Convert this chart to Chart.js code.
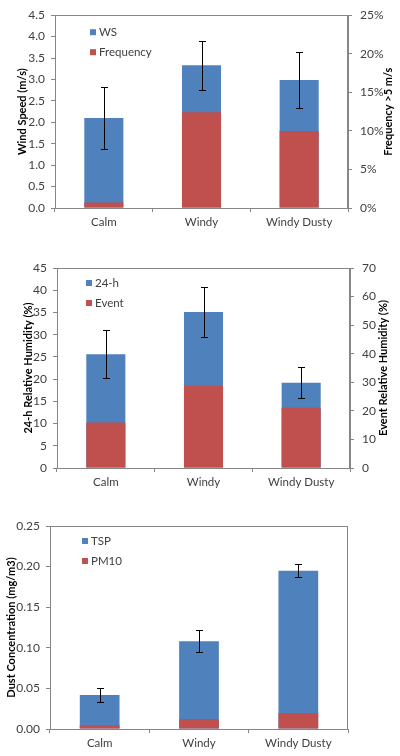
<!DOCTYPE html>
<html>
<head>
<meta charset="utf-8">
<script src="https://cdn.jsdelivr.net/npm/chart.js@4.4.0/dist/chart.umd.min.js"></script>
<style>
    html, body { margin: 0; padding: 0; background: #fff; }
    .box { position: relative; width: 400px; }
</style>
</head>
<body>
<div class="box" style="height:250px"><canvas id="windChart"></canvas></div>
<div class="box" style="height:250px"><canvas id="humidityChart"></canvas></div>
<div class="box" style="height:256px"><canvas id="dustChart"></canvas></div>
<script>
// Categories shared by the three panels
var categories = ['Calm', 'Windy', 'Windy Dusty'];

// Panel 1 : wind speed (left axis) and frequency > 5 m/s (right axis)
var windSpeed = [2.10, 3.33, 2.99];
var windSpeedErr = [0.72, 0.57, 0.65];
var windFrequency = [0.7, 12.4, 10.0];

// Panel 2 : relative humidity, 24-h (left) and event (right)
var humidity24h = [25.6, 35.1, 19.2];
var humidity24hErr = [5.4, 5.6, 3.55];
var humidityEvent = [15.9, 28.7, 21.1];

// Panel 3 : dust concentration
var dustTSP = [0.042, 0.108, 0.195];
var dustTSPErr = [0.009, 0.0135, 0.008];
var dustPM10 = [0.005, 0.0123, 0.0197];

var blue = '#4F81BD';
var red = '#C0504D';
var axisGrey = '#868686';
var labelGrey = '#404040';

Chart.defaults.font.family = 'Lato, "Open Sans", sans-serif';
Chart.defaults.font.size = 12;
Chart.defaults.color = labelGrey;
Chart.defaults.animation = false;

// box round the plot area (top and right sides)
var framePlugin = {
    id: 'plotFrame',
    beforeDatasetsDraw: function (chart) {
        var a = chart.chartArea;
        var ctx = chart.ctx;
        ctx.save();
        ctx.strokeStyle = axisGrey;
        ctx.lineWidth = 1;
        ctx.strokeRect(Math.round(a.left) + 0.5, Math.round(a.top) + 0.5,
            Math.round(a.right - a.left) - 1, Math.round(a.bottom - a.top));
        ctx.restore();
    }
};

// error bars on the first dataset
var errorBarPlugin = {
    id: 'errorBars',
    afterDatasetsDraw: function (chart, args, opts) {
        if (!opts.errors) return;
        var meta = chart.getDatasetMeta(0);
        var yScale = chart.scales[meta.yAxisID];
        var values = chart.data.datasets[0].data;
        var ctx = chart.ctx;
        ctx.save();
        ctx.strokeStyle = '#000';
        ctx.lineWidth = 1;
        meta.data.forEach(function (bar, i) {
            var x = Math.round(bar.x) + 0.5;
            var yHi = Math.round(yScale.getPixelForValue(values[i] + opts.errors[i])) + 0.5;
            var yLo = Math.round(yScale.getPixelForValue(values[i] - opts.errors[i])) + 0.5;
            ctx.beginPath();
            ctx.moveTo(x, yHi);
            ctx.lineTo(x, yLo);
            ctx.moveTo(x - 3.5, yHi);
            ctx.lineTo(x + 3.5, yHi);
            ctx.moveTo(x - 3.5, yLo);
            ctx.lineTo(x + 3.5, yLo);
            ctx.stroke();
        });
        ctx.restore();
    }
};

// legend inside the plot area, one row per dataset
var innerLegendPlugin = {
    id: 'innerLegend',
    afterDraw: function (chart, args, opts) {
        var a = chart.chartArea;
        var ctx = chart.ctx;
        ctx.save();
        ctx.font = '11.5px Lato, "Open Sans", sans-serif';
        ctx.textBaseline = 'middle';
        chart.data.datasets.forEach(function (ds, i) {
            var x = a.left + opts.dx;
            var y = a.top + opts.dy + i * 20;
            ctx.fillStyle = ds.backgroundColor;
            ctx.fillRect(x, y - 3, 6, 6);
            ctx.fillStyle = labelGrey;
            ctx.fillText(ds.label, x + 9, y);
        });
        ctx.restore();
    }
};

// axis titles, both read bottom to top
var axisTitlePlugin = {
    id: 'axisTitles',
    afterDraw: function (chart, args, opts) {
        var a = chart.chartArea;
        var ctx = chart.ctx;
        var yMid = (a.top + a.bottom) / 2;
        ctx.save();
        ctx.font = 'bold 11px Lato, "Open Sans", sans-serif';
        ctx.fillStyle = '#000';
        ctx.textAlign = 'center';
        ctx.textBaseline = 'middle';
        [opts.left, opts.right].forEach(function (t) {
            if (!t) return;
            ctx.save();
            ctx.translate(t.x, yMid);
            ctx.rotate(-Math.PI / 2);
            ctx.fillText(t.text, 0, 0);
            ctx.restore();
        });
        ctx.restore();
    }
};

function xAxis(height) {
    return {
        grid: { drawOnChartArea: false, tickLength: 4, color: axisGrey },
        border: { color: axisGrey },
        ticks: { maxRotation: 0, autoSkip: false, padding: 3, font: { size: 11.5 } },
        afterFit: function (scale) { scale.height = height; }
    };
}

function yAxis(position, width, max, step, fmt) {
    return {
        position: position,
        min: 0,
        max: max,
        grid: { drawOnChartArea: false, tickLength: 4, color: axisGrey },
        border: { color: axisGrey },
        ticks: { stepSize: step, padding: position === 'left' ? 6 : 8, callback: fmt },
        afterFit: function (scale) { scale.width = width; }
    };
}

function barChart(id, data, scales, padding, errors, legendPos, titles) {
    var ctx = document.getElementById(id).getContext('2d');
    return new Chart(ctx, {
        type: 'bar',
        data: data,
        options: {
            responsive: true,
            maintainAspectRatio: false,
            layout: { padding: padding },
            scales: scales,
            plugins: {
                legend: { display: false },
                tooltip: { enabled: false },
                errorBars: { errors: errors },
                innerLegend: legendPos,
                axisTitles: titles
            }
        },
        plugins: [framePlugin, errorBarPlugin, innerLegendPlugin, axisTitlePlugin]
    });
}

function barSet(label, values, colour, axisId, order) {
    return {
        label: label,
        data: values,
        backgroundColor: colour,
        yAxisID: axisId,
        grouped: false,
        order: order,
        barPercentage: 0.4,
        categoryPercentage: 1
    };
}

barChart('windChart',
    {
        labels: categories,
        datasets: [
            barSet('WS', windSpeed, blue, 'y', 1),
            barSet('Frequency', windFrequency, red, 'y1', 0)
        ]
    },
    {
        x: xAxis(42),
        y: yAxis('left', 55, 4.5, 0.5, function (v) { return v.toFixed(1); }),
        y1: yAxis('right', 52, 25, 5, function (v) { return v + '%'; })
    },
    { top: 10 },
    windSpeedErr,
    { dx: 35, dy: 17 },
    { left: { text: 'Wind Speed (m/s)', x: 22 }, right: { text: 'Frequency >5 m/s', x: 388 } }
);

barChart('humidityChart',
    {
        labels: categories,
        datasets: [
            barSet('24-h', humidity24h, blue, 'y', 1),
            barSet('Event', humidityEvent, red, 'y1', 0)
        ]
    },
    {
        x: xAxis(32),
        y: yAxis('left', 57, 45, 5, function (v) { return v; }),
        y1: yAxis('right', 50, 70, 10, function (v) { return v; })
    },
    { top: 18 },
    humidity24hErr,
    { dx: 29, dy: 15 },
    { left: { text: '24-h Relative Humidity (%)', x: 28 }, right: { text: 'Event Relative Humidity (%)', x: 383 } }
);

barChart('dustChart',
    {
        labels: categories,
        datasets: [
            barSet('TSP', dustTSP, blue, 'y', 1),
            barSet('PM10', dustPM10, red, 'y', 0)
        ]
    },
    {
        x: xAxis(27),
        y: yAxis('left', 50, 0.25, 0.05, function (v) { return v.toFixed(2); })
    },
    { top: 26, right: 52 },
    dustTSPErr,
    { dx: 32, dy: 15 },
    { left: { text: 'Dust Concentration (mg/m3)', x: 11 } }
);
</script>
</body>
</html>
